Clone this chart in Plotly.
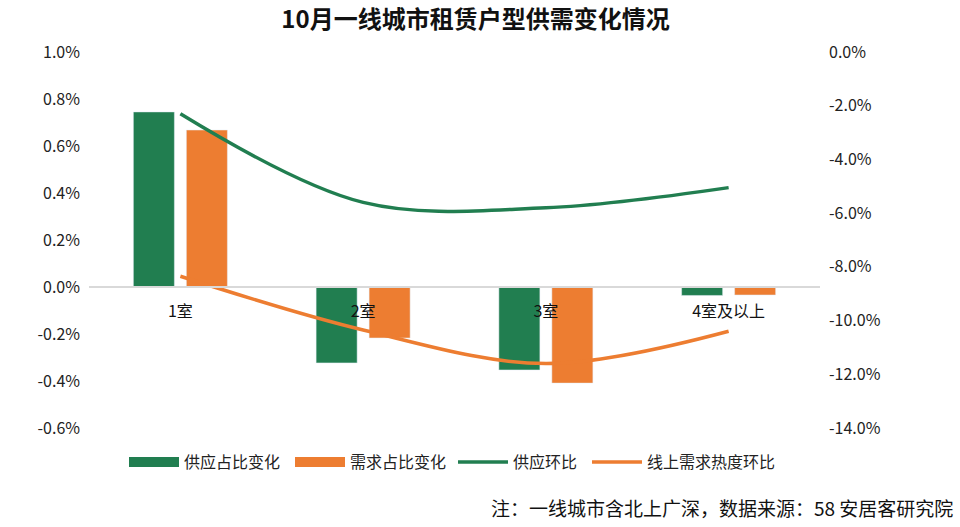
import plotly.graph_objects as go

categories = ["1室", "2室", "3室", "4室及以上"]
supply_share = [0.745, -0.323, -0.353, -0.036]   # %
demand_share = [0.668, -0.217, -0.409, -0.034]   # %
supply_mom = [-2.3, -5.6, -5.8, -5.05]            # %
demand_heat_mom = [-8.35, -10.35, -11.6, -10.4]   # %

left_ticks = [1.0, 0.8, 0.6, 0.4, 0.2, 0.0, -0.2, -0.4, -0.6]
right_ticks = [0, -2, -4, -6, -8, -10, -12, -14]

GREEN = "#217E50"
ORANGE = "#ED7D31"
FONT = "Noto Sans CJK SC, Noto Sans, sans-serif"

W, H = 960, 527
L, R, T, B = 89, 140, 52, 99
PW, PH = W - L - R, H - T - B


def px_x(x):
    return (x - L) / PW


def px_y(y):
    return (H - B - y) / PH


fig = go.Figure()
fig.add_trace(go.Bar(x=categories, y=supply_share, name="供应占比变化", marker_color=GREEN,
                     legendgroup="s", showlegend=False))
fig.add_trace(go.Bar(x=categories, y=demand_share, name="需求占比变化", marker_color=ORANGE,
                     legendgroup="d", showlegend=False))
# legend keys for the bars (wide rectangles, as in the reference)
fig.add_trace(go.Scatter(x=[None], y=[None], name="供应占比变化", mode="lines",
                         line=dict(color=GREEN, width=10), legendgroup="s", legend="legend"))
fig.add_trace(go.Scatter(x=[None], y=[None], name="需求占比变化", mode="lines",
                         line=dict(color=ORANGE, width=10), legendgroup="d", legend="legend2"))
fig.add_trace(go.Scatter(x=categories, y=supply_mom, name="供应环比", mode="lines",
                         line=dict(color=GREEN, width=3.5, shape="spline", smoothing=1.0),
                         yaxis="y2", legend="legend3"))
fig.add_trace(go.Scatter(x=categories, y=demand_heat_mom, name="线上需求热度环比", mode="lines",
                         line=dict(color=ORANGE, width=3.5, shape="spline", smoothing=1.0),
                         yaxis="y2", legend="legend4"))

leg_common = dict(orientation="h", xanchor="left", y=px_y(462), yanchor="middle",
                  font=dict(size=16, color="#222222"), itemwidth=50,
                  bgcolor="rgba(0,0,0,0)")

fig.update_layout(
    width=W, height=H,
    margin=dict(l=L, r=R, t=T, b=B),
    paper_bgcolor="white", plot_bgcolor="white",
    font=dict(family=FONT, size=16, color="#222222"),
    title=dict(text="<b>10月一线城市租赁户型供需变化情况</b>", x=475.5 / W, xanchor="center",
               y=1 - 20 / H, yanchor="middle", font=dict(size=24, color="#111111")),
    barmode="group", bargap=0.42, bargroupgap=0.226,
    xaxis=dict(anchor="free", position=px_y(287), showline=True, linecolor="#D9D9D9", linewidth=2,
               ticks="", showgrid=False, ticklabelstandoff=10,
               tickfont=dict(size=16, color="#111111")),
    yaxis=dict(range=[-0.6, 1.0], tickvals=left_ticks,
               ticktext=[f"{v:.1f}%" for v in left_ticks],
               showgrid=False, zeroline=False, ticklabelstandoff=8,
               tickfont=dict(size=16, color="#222222")),
    yaxis2=dict(range=[-14, 0], tickvals=right_ticks,
                ticktext=[f"{v:.1f}%" for v in right_ticks],
                overlaying="y", side="right", showgrid=False, zeroline=False,
                ticklabelstandoff=8, tickfont=dict(size=16, color="#222222")),
    legend=dict(x=px_x(124), **leg_common),
    legend2=dict(x=px_x(290), **leg_common),
    legend3=dict(x=px_x(453), **leg_common),
    legend4=dict(x=px_x(587), **leg_common),
    showlegend=True,
)
fig.add_annotation(text="注：一线城市含北上广深，数据来源：58 安居客研究院", xref="paper", yref="paper",
                   x=px_x(955), xanchor="right", y=px_y(507), yanchor="middle",
                   showarrow=False, font=dict(size=19, color="#111111"))

fig.write_html("out.html", config={"displayModeBar": False},
               post_script="document.body.style.margin='0';")
